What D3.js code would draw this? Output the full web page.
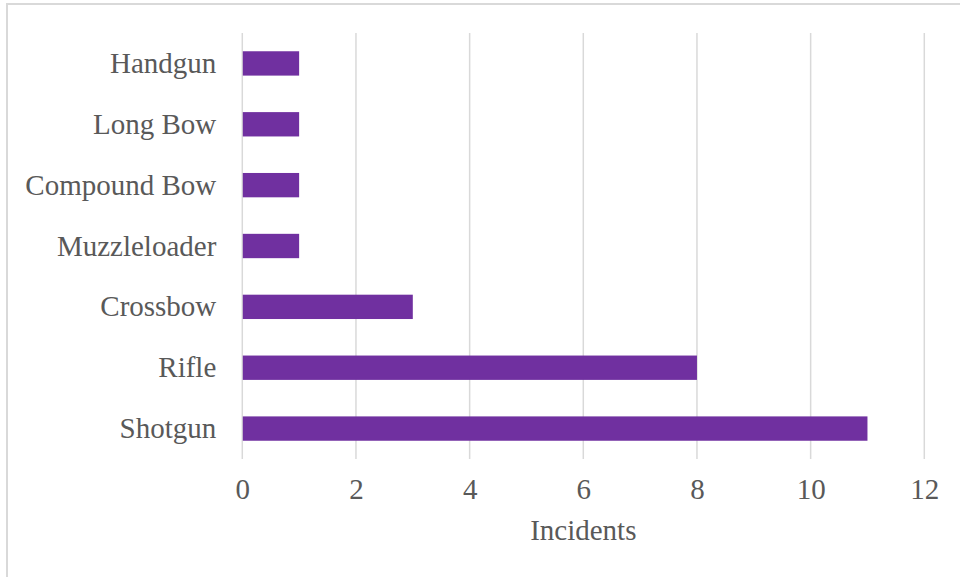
<!DOCTYPE html>
<html>
<head>
<meta charset="utf-8">
<script src="https://cdn.jsdelivr.net/npm/d3@7"></script>
<style>
html,body{margin:0;padding:0;background:#fff;}
svg{display:block;}
</style>
</head>
<body>
<svg id="chart" width="960" height="577"></svg>
<script>
const categories = ["Handgun","Long Bow","Compound Bow","Muzzleloader","Crossbow","Rifle","Shotgun"];
const values = [1,1,1,1,3,8,11];
const xTicks = [0,2,4,6,8,10,12];
const xTitle = "Incidents";

const svg = d3.select("#chart");
const W = 960, H = 577;
const margin = {left:242.3, right:960-924.3, top:33, bottom:577-459};
const font = "'Liberation Serif','Times New Roman',serif";
const textColor = "#595959";
const fs = 29;

svg.append("rect").attr("x",7).attr("y",4).attr("width",W).attr("height",H)
  .attr("fill","#fff").attr("stroke","#d9d9d9").attr("stroke-width",2);

const x = d3.scaleLinear().domain([0,12]).range([margin.left, W-margin.right]);
const y = d3.scaleBand().domain(categories).range([margin.top, H-margin.bottom]).paddingInner(0.6).paddingOuter(0.3);

// gridlines
svg.append("g").selectAll("line").data(xTicks).join("line")
  .attr("x1",d=>x(d)).attr("x2",d=>x(d))
  .attr("y1",margin.top).attr("y2",H-margin.bottom)
  .attr("stroke","#d9d9d9").attr("stroke-width",1.5);

// bars
svg.append("g").selectAll("rect").data(categories).join("rect")
  .attr("x",x(0)+0.5)
  .attr("y",d=>y(d))
  .attr("width",(d,i)=>x(values[i])-x(0)-0.5)
  .attr("height",y.bandwidth())
  .attr("fill","#7030A0");

// x axis
const xAxis = d3.axisBottom(x).tickValues(xTicks).tickSize(0).tickPadding(0).tickFormat(d3.format("d"));
const gx = svg.append("g").attr("transform",`translate(0,${H-margin.bottom})`).call(xAxis);
gx.select(".domain").remove();
gx.selectAll("text").attr("y",null).attr("dy",null)
  .attr("transform","translate(0,40)")
  .attr("font-family",font).attr("font-size",fs).attr("fill",textColor);

// y axis
const yAxis = d3.axisLeft(y).tickSize(0).tickPadding(0);
const gy = svg.append("g").attr("transform",`translate(${x(0)-26},0)`).call(yAxis);
gy.select(".domain").remove();
gy.selectAll("text").attr("x",0).attr("dy","0.33em")
  .attr("font-family",font).attr("font-size",fs).attr("fill",textColor);

// title
svg.append("text").attr("x",(x(0)+x(12))/2).attr("y",540)
  .attr("text-anchor","middle").attr("font-family",font).attr("font-size",fs)
  .attr("fill",textColor).text(xTitle);
</script>
</body>
</html>
